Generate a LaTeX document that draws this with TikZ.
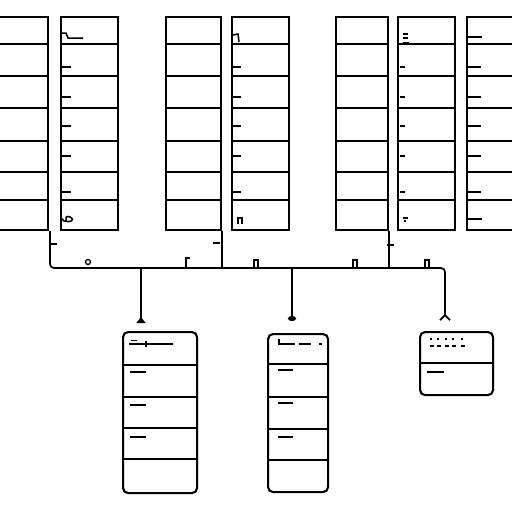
\documentclass[tikz,border=0pt]{standalone}
\usetikzlibrary{arrows.meta,calc,positioning}
\tikzset{
  col/.style={draw,line width=2.1pt,inner sep=0pt,anchor=north west,minimum height=213pt},
  tab/.style={draw,line width=2.1pt,inner sep=0pt,anchor=north west,rounded corners=5pt},
  sep/.style={line width=1.8pt},
  wire/.style={line width=1.7pt},
  scrib/.style={line width=2.2pt}
}
\begin{document}
\begin{tikzpicture}[x=1pt,y=-1pt]
  \useasboundingbox (0,0) rectangle (512,512);
  % top columns: name/left/right
  \foreach \n/\xl/\xr in {A/-10/47,B/60/117,C/165/220,D/231/288,E/335/387,F/397/454,G/466/530} {
    \node[col,minimum width={(\xr-(\xl))*1pt}] (col\n) at (\xl,16) {};
    \foreach \y in {44,76,108,141,172,200} \draw[sep] (col\n.west |- 0,\y) -- (col\n.east |- 0,\y);
  }
  % row marks
  \foreach \xl/\len in {61/10,233/8,400/5,467/14}
    \foreach \y in {67,97,126,156,192} \draw[scrib] (\xl,\y) -- ++(\len,0);
  \draw[line width=1.5pt] (61,33) -- (66,33) -- (68,38) -- (83,38);
  \draw[line width=1.5pt] (61,218) -- (64,221) .. controls (70,223) and (76,220) .. (70,217) .. controls (66,216) .. (66,221);
  \draw[line width=1.5pt] (233,35) -- (238,34) -- (239,42);
  \draw[line width=1.5pt] (238,224) -- (238,218) -- (242,218) -- (242,224);
  \draw[line width=1.5pt] (403,34) -- (408,34) (403,38) -- (408,38) (403,43) -- (409,43);
  \draw[line width=1.5pt] (403,218) -- (408,218) (404,221) -- (406,221);
  \draw[scrib] (467,37) -- (482,37) (467,219) -- (482,219);
  % bus
  \coordinate (bL) at (50,268);
  \coordinate (bR) at (445,268);
  \coordinate (d1) at (141,323);
  \coordinate (d2) at (292,321);
  \coordinate (d3) at (445,321);
  \draw[wire,rounded corners=4pt,-{Straight Barb[reversed,width=10pt,length=5pt]}] (50,231) -- (bL) -- (bR) -- (d3);
  \draw[wire] (colC.south east) -- (colC.south east |- bL);
  \draw[wire] (colE.south east) -- (colE.south east |- bL);
  \draw[wire,-{Triangle[reversed,width=9pt,length=6pt]}] (d1 |- bL) -- (d1);
  \draw[wire,-{Circle[width=8pt,length=5pt]}] (d2 |- bL) -- (d2);
  \draw[wire] (50,244) -- ++(7,0) (220,243) -- ++(-7,0) (387,245) -- ++(7,0);
  \draw[line width=1.3pt] (88,262) circle (2.5);
  \draw[wire] (186,268) -- (186,258) -- (190,258);
  \foreach \x in {256,355,427} \draw[wire] (\x-2,268) -- (\x-2,260) -- (\x+2,260) -- (\x+2,268);
  % bottom tables
  \node[tab,minimum width=74pt,minimum height=161pt] (tab1) at (122,331) {};
  \node[tab,minimum width=60pt,minimum height=158pt] (tab2) at (267,333) {};
  \node[tab,minimum width=73pt,minimum height=63pt] (tab3) at (419,331) {};
  \foreach \y in {365,397,428,459} \draw[sep] (tab1.west |- 0,\y) -- (tab1.east |- 0,\y);
  \foreach \y in {364,397,429,460} \draw[sep] (tab2.west |- 0,\y) -- (tab2.east |- 0,\y);
  \draw[sep] (tab3.west |- 0,363) -- (tab3.east |- 0,363);
  % table marks
  \draw[line width=1.4pt] (129,344) -- (173,344) (146,341) -- (146,347);
  \draw[line width=0.6pt] (131,340) -- (137,340);
  \foreach \y in {372,405,437} \draw[scrib] (130,\y) -- ++(16,0);
  \draw[line width=1.6pt] (279,339) -- (279,344) -- (295,344) (299,344) -- (311,344) (319,344) -- (322,344);
  \foreach \y in {370,403,437} \draw[scrib] (278,\y) -- ++(15,0);
  \foreach \x in {430,437,445,452,461} \draw[line width=1.3pt] (\x,339) -- ++(2,0) (\x,346) -- ++(4,0);
  \draw[scrib] (427,372) -- ++(17,0);
\end{tikzpicture}
\end{document}
